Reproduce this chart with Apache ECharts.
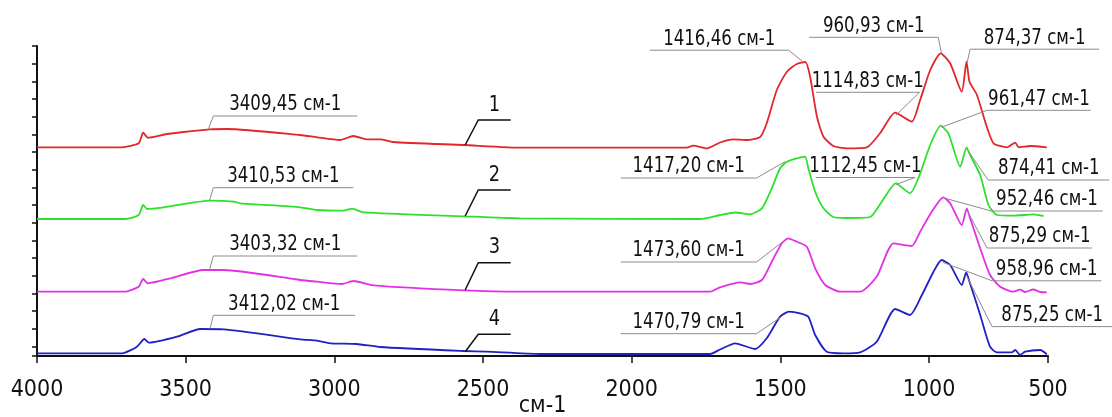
<!DOCTYPE html>
<html><head><meta charset="utf-8">
<script src="https://cdn.jsdelivr.net/npm/echarts@6/dist/echarts.min.js"></script>
<style>html,body{margin:0;padding:0;background:#fff}#c{width:1112px;height:417px}</style>
</head><body><div id="c"></div>
<script>
const FONT = "'Liberation Sans Narrow','DejaVu Sans Condensed','Roboto Condensed','Noto Sans',sans-serif";

// x axis ticks (the last tick sits at the axis end and is labelled 500 in the original)
const tickValues = [4000, 3500, 3000, 2500, 2000, 1500, 1000, 600];
const tickLabels = ['4000', '3500', '3000', '2500', '2000', '1500', '1000', '500'];

const seriesNames = ['1', '2', '3', '4'];

// spectra: [wavenumber, intensity (a.u., offset stacked)]
const spectrum1 = [[4000,2.107],[3714,2.107],[3658,2.147],[3643,2.253],[3627,2.203],[3563,2.24],[3418,2.287],[3361,2.29],[3115,2.23],[3058,2.207],[2981,2.18],[2936,2.22],[2891,2.187],[2846,2.187],[2803,2.16],[2567,2.13],[2365,2.103],[1815,2.103],[1793,2.123],[1747,2.097],[1703,2.155],[1659,2.187],[1613,2.18],[1568,2.21],[1546,2.347],[1512,2.68],[1478,2.863],[1445,2.94],[1416,2.96],[1400,2.813],[1377,2.413],[1355,2.213],[1322,2.12],[1277,2.097],[1209,2.107],[1165,2.247],[1114,2.453],[1058,2.363],[1030,2.58],[996,2.88],[961,3.047],[929,2.947],[890,2.663],[874,2.963],[864,2.763],[839,2.63],[806,2.313],[783,2.147],[738,2.107],[710,2.153],[699,2.107],[660,2.12],[604,2.107]];
const spectrum2 = [[4000,1.39],[3703,1.39],[3658,1.43],[3643,1.53],[3630,1.49],[3574,1.507],[3417,1.573],[3338,1.563],[3316,1.547],[3115,1.507],[3058,1.48],[2970,1.473],[2941,1.493],[2902,1.457],[2566,1.417],[2375,1.397],[1770,1.39],[1703,1.43],[1652,1.455],[1602,1.437],[1562,1.497],[1529,1.697],[1501,1.897],[1478,1.963],[1445,1.997],[1417,2.013],[1406,1.897],[1383,1.663],[1355,1.497],[1322,1.41],[1277,1.40],[1198,1.41],[1159,1.563],[1112,1.747],[1064,1.647],[1036,1.797],[996,2.13],[961,2.323],[935,2.247],[895,1.913],[874,2.107],[862,2.03],[828,1.83],[800,1.53],[772,1.43],[716,1.423],[649,1.437],[615,1.42]];
const spectrum3 = [[4000,0.663],[3706,0.663],[3658,0.713],[3643,0.79],[3627,0.747],[3552,0.797],[3439,0.88],[3372,0.88],[3115,0.78],[3058,0.763],[2975,0.74],[2936,0.77],[2869,0.727],[2566,0.677],[2375,0.663],[1736,0.663],[1703,0.707],[1635,0.757],[1602,0.74],[1562,0.78],[1529,0.963],[1495,1.147],[1474,1.197],[1445,1.163],[1411,1.113],[1383,0.897],[1349,0.73],[1299,0.663],[1232,0.663],[1176,0.813],[1120,1.147],[1058,1.12],[1030,1.263],[991,1.463],[952,1.607],[929,1.547],[890,1.33],[873,1.497],[862,1.397],[828,1.097],[795,0.83],[761,0.713],[716,0.663],[694,0.683],[677,0.66],[650,0.685],[626,0.66],[604,0.657]];
const spectrum4 = [[4000,0.047],[3714,0.047],[3664,0.113],[3639,0.19],[3624,0.153],[3529,0.213],[3451,0.29],[3372,0.287],[3115,0.187],[3058,0.173],[3014,0.147],[2925,0.14],[2846,0.11],[2566,0.07],[2487,0.063],[2308,0.04],[1736,0.04],[1703,0.085],[1652,0.147],[1585,0.09],[1546,0.197],[1501,0.413],[1471,0.463],[1434,0.447],[1406,0.413],[1383,0.23],[1344,0.063],[1288,0.047],[1232,0.057],[1176,0.163],[1114,0.49],[1064,0.43],[1024,0.63],[985,0.863],[958,0.98],[929,0.93],[890,0.73],[875,0.857],[864,0.763],[828,0.43],[795,0.113],[772,0.057],[721,0.057],[710,0.08],[694,0.03],[677,0.063],[626,0.08],[604,0.037]];

// peak annotations: text, point on curve, elbow of leader, far end of underline (wavenumber)
const peakTexts = ['3409,45 см-1','3410,53 см-1','3403,32 см-1','3412,02 см-1','1416,46 см-1','960,93 см-1','874,37 см-1','1114,83 см-1','961,47 см-1','1417,20 см-1','1112,45 см-1','874,41 см-1','952,46 см-1','875,29 см-1','958,96 см-1','875,25 см-1','1473,60 см-1','1470,79 см-1'];
const peakPoints = [[3424,2.287],[3420,1.573],[3420,0.88],[3418,0.293],[1420,2.952],[958,3.044],[872,2.952],[1112,2.426],[958,2.308],[1484,1.965],[1111,1.735],[872,2.085],[949,1.60],[872,1.475],[952,0.955],[874,0.823],[1489,1.17],[1500,0.406]];
const peakElbows = [[3407,2.42],[3407,1.703],[3407,1.02],[3407,0.427],[1472,3.078],[969,3.207],[862,3.088],[1032,2.657],[805,2.477],[1580,1.80],[1047,1.805],[801,1.78],[791,1.47],[805,1.10],[788,0.772],[788,0.314],[1580,0.96],[1580,0.243]];
const peakUnderlineEnds = [2923,2936,2923,2930,1939,1403,428,1380,456,2037,1381,394,416,451,421,384,2037,2037];

// curve numbers
const curveNumbers = ['1','2','3','4'];
const numberPoints = [[2560,2.13],[2560,1.42],[2560,0.68],[2560,0.063]];
const numberElbows = [[2516,2.38],[2516,1.68],[2516,0.953],[2516,0.237]];
const numberEnds = [2407,2407,2407,2407];

const colors = ['#e3262a', '#2ee02e', '#e430e4', '#2020c4'];
const spectra = [spectrum1, spectrum2, spectrum3, spectrum4];

function leaderRenderer(texts, stroke, lineWidth, gap, fontSize, sx) {
  return function (params, api) {
    const p = api.coord([api.value(0), api.value(1)]);
    const e = api.coord([api.value(2), api.value(3)]);
    const f = api.coord([api.value(4), api.value(3)]);
    return {
      type: 'group',
      children: [
        { type: 'polyline', shape: { points: [p, e, f] }, style: { stroke: stroke, lineWidth: lineWidth, fill: null } },
        { type: 'text', x: (e[0] + f[0]) / 2, y: e[1] - gap, scaleX: sx,
          style: { text: texts[params.dataIndex], fontFamily: FONT, fontSize: fontSize, fill: '#111',
                   textAlign: 'center', textVerticalAlign: 'middle' } }
      ]
    };
  };
}

const peakData = peakTexts.map((t, i) => [peakPoints[i][0], peakPoints[i][1], peakElbows[i][0], peakElbows[i][1], peakUnderlineEnds[i]]);
const numberData = curveNumbers.map((t, i) => [numberPoints[i][0], numberPoints[i][1], numberElbows[i][0], numberElbows[i][1], numberEnds[i]]);

const chart = echarts.init(document.getElementById('c'), null, { renderer: 'canvas' });
chart.setOption({
  animation: false,
  backgroundColor: '#fff',
  grid: { left: 37, right: 64, top: 46, bottom: 61, containLabel: false, outerBoundsMode: 'none' },
  xAxis: {
    type: 'value', inverse: true, min: 600, max: 4000,
    name: 'см-1', nameLocation: 'middle', nameGap: 39, nameMoveOverlap: false,
    nameTextStyle: { fontFamily: FONT, fontSize: 23, color: '#111' },
    axisLine: { show: true, onZero: false, lineStyle: { color: '#111', width: 2 } },
    axisTick: { show: true, length: 7, lineStyle: { color: '#111', width: 1.5 }, customValues: tickValues },
    axisLabel: { customValues: tickValues, margin: 23, fontFamily: FONT, fontSize: 23, color: '#111',
      formatter: v => { const i = tickValues.indexOf(v); return i >= 0 ? tickLabels[i] : ''; } },
    splitLine: { show: false }
  },
  yAxis: [
    { type: 'value', min: 0.02, max: 3.12, position: 'left',
      axisLine: { show: true, onZero: false, lineStyle: { color: '#111', width: 2 } },
      axisTick: { show: false }, axisLabel: { show: false }, splitLine: { show: false } },
    { type: 'value', inverse: true, min: 0, max: 17.54, interval: 1, position: 'left',
      axisLine: { show: false, onZero: false },
      axisTick: { show: true, length: 5, lineStyle: { color: '#111', width: 1.5 } },
      axisLabel: { show: false }, splitLine: { show: false } }
  ],
  series: [
    ...spectra.map((d, i) => ({
      name: seriesNames[i], type: 'line', data: d, showSymbol: false, smooth: 0.2,
      lineStyle: { color: colors[i], width: 1.8 }, z: 3
    })),
    { type: 'custom', name: 'peaks', data: peakData, clip: false, z: 4,
      renderItem: leaderRenderer(peakTexts, '#8c8c8c', 1, 11, 21, 0.88) },
    { type: 'custom', name: 'numbers', data: numberData, clip: false, z: 4,
      renderItem: leaderRenderer(curveNumbers, '#111', 1.5, 15, 22, 0.9) }
  ]
});
</script>
</body></html>
